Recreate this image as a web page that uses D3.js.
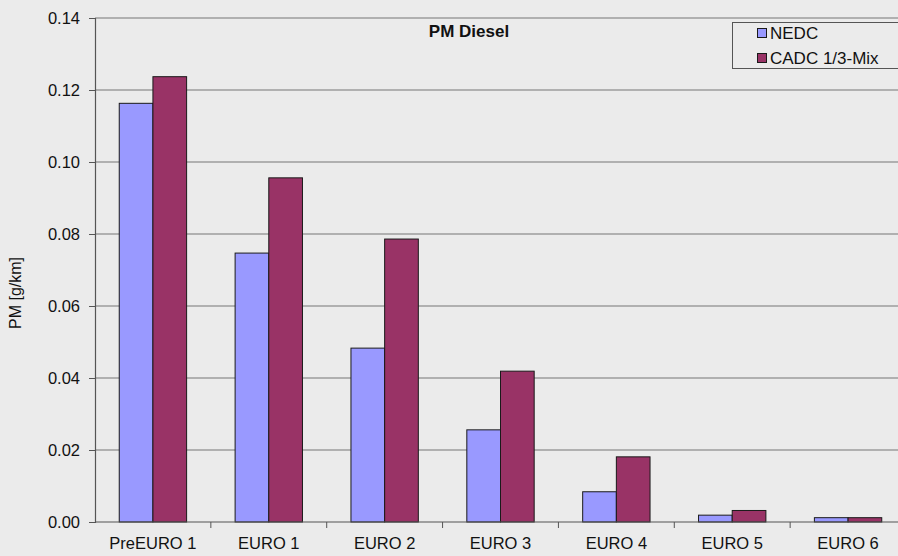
<!DOCTYPE html>
<html>
<head>
<meta charset="utf-8">
<script src="https://cdn.jsdelivr.net/npm/d3@7"></script>
<style>
  html, body { margin: 0; padding: 0; background: #ebebeb; }
  svg { display: block; font-family: "Liberation Sans", Arial, sans-serif; }
</style>
</head>
<body>
<svg id="chart" width="898" height="556"></svg>
<script>
// Particulate emissions of diesel passenger cars by emission standard
const categories = ["PreEURO 1", "EURO 1", "EURO 2", "EURO 3", "EURO 4", "EURO 5", "EURO 6"];
const seriesNames = ["NEDC", "CADC 1/3-Mix"];
const nedcValues = [0.1163, 0.0747, 0.0483, 0.0256, 0.0084, 0.0019, 0.0012];
const cadcValues = [0.1237, 0.0956, 0.0786, 0.0419, 0.0181, 0.0032, 0.0012];
const yTicks = [0, 0.02, 0.04, 0.06, 0.08, 0.10, 0.12, 0.14];
const colors = ["#9999ff", "#993366"];

const svg = d3.select("#chart");
const plot = { left: 95, right: 906, top: 18, bottom: 522 };

const x = d3.scaleBand().domain(categories).range([plot.left, plot.right]).paddingInner(0).paddingOuter(0);
const inner = d3.scaleBand().domain(seriesNames).range([0, x.bandwidth()]).paddingInner(0).paddingOuter(0.72);
const y = d3.scaleLinear().domain([0, 0.14]).range([plot.bottom, plot.top]);

// horizontal gridlines
svg.append("g").selectAll("line").data(yTicks.filter(d => d > 0)).join("line")
  .attr("x1", plot.left).attr("x2", plot.right)
  .attr("y1", d => y(d)).attr("y2", d => y(d))
  .attr("stroke", "#9c9c9c").attr("stroke-width", 1.3);

// bars
const rows = categories.map((c, i) => ({ cat: c, vals: [nedcValues[i], cadcValues[i]] }));
const groups = svg.append("g").selectAll("g").data(rows).join("g")
  .attr("transform", d => `translate(${x(d.cat)},0)`);
groups.selectAll("rect").data(d => d.vals.map((v, j) => ({ name: seriesNames[j], v, j }))).join("rect")
  .attr("x", d => inner(d.name))
  .attr("width", inner.bandwidth())
  .attr("y", d => y(d.v))
  .attr("height", d => y(0) - y(d.v))
  .attr("fill", d => colors[d.j])
  .attr("stroke", "#1a1a1a").attr("stroke-width", 1);

// y axis
const yAxis = d3.axisLeft(y).tickValues(yTicks).tickFormat(d3.format(".2f")).tickSize(6).tickPadding(9);
const gy = svg.append("g").attr("transform", `translate(${plot.left},0)`).call(yAxis);
gy.select(".domain").attr("stroke", "#555").attr("stroke-width", 1.2);
gy.selectAll(".tick line").attr("stroke", "#555");
gy.selectAll(".tick text").attr("font-size", 16.5).attr("fill", "#111").attr("font-family", "Liberation Sans, Arial, sans-serif");

// x axis: ticks at category boundaries
const gx = svg.append("g").attr("transform", `translate(0,${plot.bottom})`);
gx.append("line").attr("x1", plot.left).attr("x2", plot.right).attr("stroke", "#555").attr("stroke-width", 1.2);
gx.selectAll("line.tk").data(categories.slice(1)).join("line").attr("class", "tk")
  .attr("x1", d => x(d)).attr("x2", d => x(d)).attr("y1", 0).attr("y2", 6)
  .attr("stroke", "#555");
gx.selectAll("text").data(categories).join("text")
  .attr("x", d => x(d) + x.bandwidth() / 2).attr("y", 26.5)
  .attr("text-anchor", "middle").attr("font-size", 16.5).attr("fill", "#111")
  .text(d => d);

// axis title
svg.append("text")
  .attr("transform", `translate(21,${(plot.top + plot.bottom) / 2 + 23}) rotate(-90)`)
  .attr("text-anchor", "middle").attr("font-size", 16).attr("fill", "#111")
  .text("PM [g/km]");

// chart title
svg.append("text").attr("x", 469).attr("y", 37).attr("text-anchor", "middle")
  .attr("font-size", 17).attr("font-weight", "bold").attr("fill", "#111")
  .text("PM Diesel");

// legend
const legend = svg.append("g");
legend.append("rect").attr("x", 732.5).attr("y", 22.5).attr("width", 180).attr("height", 46)
  .attr("fill", "#ebebeb").attr("stroke", "#555").attr("stroke-width", 1);
seriesNames.forEach((n, i) => {
  const cy = 33 + i * 25;
  legend.append("rect").attr("x", 757.5).attr("y", cy - 4.5).attr("width", 9).attr("height", 9)
    .attr("fill", colors[i]).attr("stroke", "#1a1a1a").attr("stroke-width", 1);
  legend.append("text").attr("x", 770).attr("y", cy + 6)
    .attr("font-size", 17).attr("fill", "#111").text(n);
});
</script>
</body>
</html>
